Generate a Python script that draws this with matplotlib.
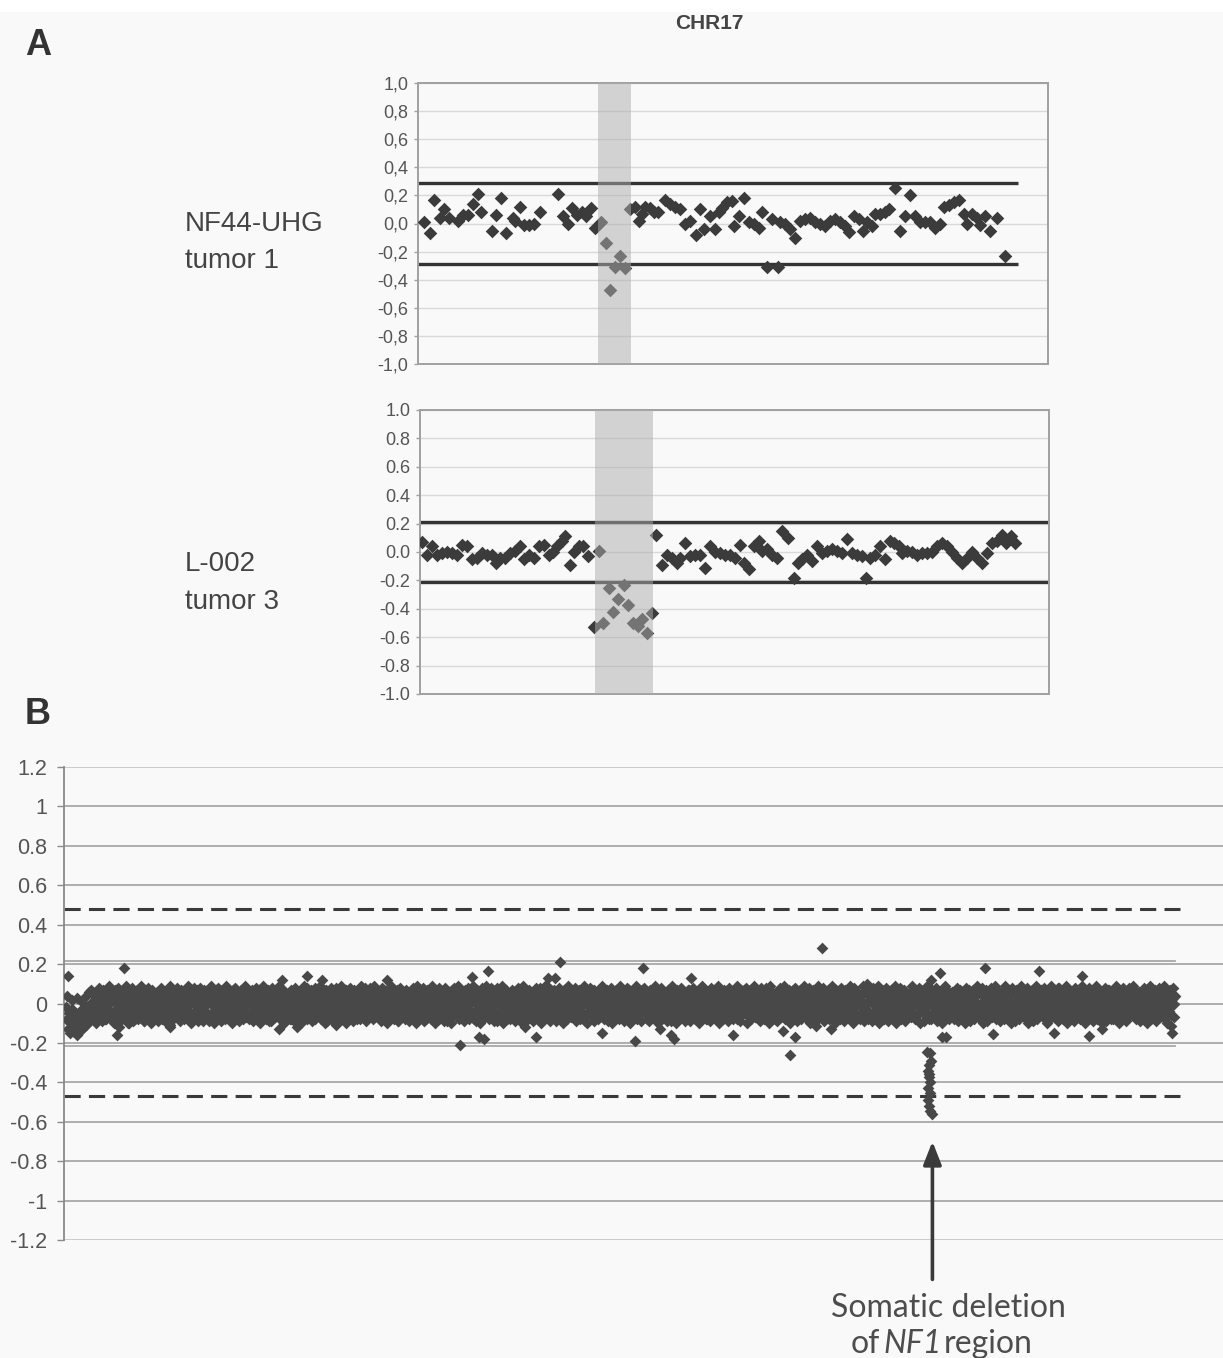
import numpy as np
import matplotlib
matplotlib.use("Agg")
import matplotlib.pyplot as plt
from matplotlib.patches import Rectangle

plt.rcParams['font.family'] = ['Liberation Sans', 'DejaVu Sans']

# ---------------- DATA ----------------
# Panel A, top: NF44-UHG tumor 1 (probe position index, log2 ratio)
a1_pos = [1.1, 2.3, 3.1, 4.3, 5.1, 6.1, 7.9, 8.9, 9.9, 10.9,
          11.9, 12.5, 14.7, 15.6, 16.5, 17.5, 18.9, 19.4, 20.4, 21.2,
          22.1, 23.2, 24.3, 27.9, 28.9, 29.9, 30.7, 31.7, 32.7, 33.6,
          34.5, 35.4, 36.6, 37.5, 38.3, 39.4, 40.3, 41.3, 42.3, 43.4,
          44.1, 44.7, 45.4, 46.4, 47.2, 47.9, 49.4, 50.4, 51.4, 52.3,
          53.4, 54.4, 55.6, 56.4, 57.2, 58.4, 59.4, 60.1, 60.7, 61.7,
          62.7, 63.1, 64.1, 65.1, 66.1, 67.1, 68.1, 68.7, 69.7, 70.7,
          71.9, 72.4, 73.4, 74.4, 75.4, 76.4, 77.4, 78.4, 79.4, 80.4,
          81.4, 82.4, 83.4, 84.4, 85.4, 86.1, 87.1, 88.1, 88.9, 89.7,
          90.7, 91.4, 92.4, 93.4, 94.1, 95.4, 96.4, 97.4, 98.3, 99.4,
          100.4, 101.4, 102.4, 103.4, 104.4, 105.1, 106.1, 107.1, 108.1, 109.1,
          109.7, 110.7, 111.7, 112.4, 113.4, 114.4, 115.7, 117.4]
a1_val = [0.01, -0.07, 0.17, 0.04, 0.10, 0.04, 0.02, 0.06, 0.06, 0.14,
          0.21, 0.08, -0.05, 0.06, 0.18, -0.07, 0.04, 0.02, 0.12, -0.01,
          -0.01, 0.00, 0.08, 0.21, 0.05, 0.00, 0.11, 0.06, 0.08, 0.05,
          0.11, -0.03, 0.01, -0.14, -0.47, -0.31, -0.23, -0.32, 0.10, 0.12,
          0.02, 0.07, 0.12, 0.11, 0.08, 0.08, 0.17, 0.14, 0.12, 0.10,
          0.00, 0.02, -0.08, 0.10, -0.04, 0.05, -0.04, 0.08, 0.11, 0.15,
          0.16, -0.02, 0.05, 0.18, 0.01, 0.00, -0.03, 0.08, -0.31, 0.03,
          -0.31, 0.01, 0.00, -0.04, -0.10, 0.02, 0.03, 0.04, 0.01, 0.00,
          -0.02, 0.02, 0.03, 0.01, -0.02, -0.06, 0.05, 0.03, -0.05, 0.01,
          -0.02, 0.07, 0.07, 0.08, 0.10, 0.25, -0.05, 0.05, 0.20, 0.05,
          0.01, 0.01, 0.01, -0.03, 0.00, 0.12, 0.13, 0.15, 0.17, 0.07,
          0.00, 0.07, 0.04, -0.01, 0.05, -0.05, 0.04, -0.23]
a1_region = (36.0, 42.6)
a1_threshold = 0.29
a1_line_end = 120
a1_xmax = 126

# Panel A, bottom: L-002 tumor 3
a2_pos = [0.3, 1.3, 2.3, 3.3, 4.3, 5.3, 6.3, 7.3, 8.3, 9.3,
          10.3, 11.3, 12.3, 13.3, 14.3, 15.2, 16.0, 17.0, 18.0, 19.0,
          20.0, 20.7, 21.7, 22.7, 23.7, 24.7, 25.7, 26.5, 27.3, 28.3,
          29.0, 29.9, 30.7, 31.7, 32.5, 33.5, 34.7, 35.8, 36.5, 37.7,
          38.5, 39.5, 40.7, 41.5, 42.5, 43.5, 44.3, 45.3, 46.3, 47.2,
          48.3, 49.3, 50.3, 51.3, 52.0, 52.9, 53.9, 55.0, 56.0, 57.0,
          58.0, 59.0, 60.0, 61.0, 62.0, 63.0, 64.0, 64.7, 65.7, 66.7,
          67.7, 68.3, 69.3, 70.3, 71.3, 72.3, 73.5, 74.7, 75.5, 76.3,
          77.3, 78.3, 79.3, 80.3, 81.3, 82.3, 83.3, 84.3, 85.3, 86.3,
          87.3, 88.3, 89.1, 90.0, 91.0, 92.0, 93.0, 93.9, 94.7, 95.7,
          96.3, 97.3, 98.3, 99.3, 100.3, 101.3, 102.3, 103.3, 104.3, 105.3,
          106.3, 107.3, 108.3, 109.3, 110.3, 111.3, 112.3, 113.3, 114.3, 115.3,
          116.3, 117.2, 118.1, 119.0]
a2_val = [0.07, -0.02, 0.04, -0.02, -0.01, 0.00, -0.01, -0.02, 0.05, 0.04,
          -0.05, -0.04, -0.01, -0.02, -0.02, -0.08, -0.04, -0.04, -0.01, 0.01,
          0.04, -0.05, -0.02, -0.04, 0.04, 0.05, -0.02, 0.00, 0.04, 0.08,
          0.11, -0.09, 0.00, 0.04, 0.04, -0.03, -0.53, 0.01, -0.50, -0.25,
          -0.42, -0.33, -0.23, -0.37, -0.50, -0.52, -0.47, -0.57, -0.43, 0.12,
          -0.09, -0.02, -0.04, -0.08, -0.04, 0.06, -0.03, -0.02, -0.02, -0.11,
          0.04, 0.00, -0.01, -0.02, -0.02, -0.04, 0.05, -0.08, -0.12, 0.04,
          0.08, 0.01, 0.02, -0.02, -0.04, 0.15, 0.10, -0.18, -0.08, -0.05,
          -0.02, -0.06, 0.04, -0.01, 0.01, 0.02, 0.01, -0.01, 0.09, -0.01,
          -0.02, -0.03, -0.18, -0.04, -0.02, 0.04, -0.05, 0.08, 0.06, 0.04,
          -0.01, 0.01, 0.00, -0.02, -0.01, -0.01, 0.00, 0.04, 0.06, 0.04,
          0.00, -0.04, -0.08, -0.04, 0.00, -0.04, -0.08, -0.01, 0.06, 0.08,
          0.12, 0.06, 0.11, 0.06]
a2_region = (35.0, 46.6)
a2_threshold = 0.21
a2_xmax = 125.8

a1_ticks = [1.0, 0.8, 0.6, 0.4, 0.2, 0.0, -0.2, -0.4, -0.6, -0.8, -1.0]
a1_ticklabels = ['1,0', '0,8', '0,6', '0,4', '0,2', '0,0', '-0,2', '-0,4', '-0,6', '-0,8', '-1,0']
a2_ticklabels = ['1.0', '0.8', '0.6', '0.4', '0.2', '0.0', '-0.2', '-0.4', '-0.6', '-0.8', '-1.0']

# Panel B: whole-genome probe values (hundredths), probe index order
# probe set 1 (integer positions)
b_band_hundredths = [
    -2, 4, -9, -4, -12, 2, -14, -10, -5, -13, 3, -15, -11, -6, 1, -3, -12, -7, 4, -10,
    -2, -8, -5, 1, -6, -3, 4, -7, -1, 3, -5, 0, 5, -4, 2, -8, 1, 6, -3, 0,
    4, -6, 2, -9, 7, -3, 0, 5, -12, -2, 3, -7, 1, 8, -4, 2, -10, 6, -1, -5,
    3, 0, -8, 4, -2, 7, -6, 1, -3, 5, -9, 2, 0, -4, 6, -1, 3, -7, 1, -2,
    5, -3, 0, -6, 3, -1, 7, -4, 2, -8, 0, 4, -5, 1, -11, 3, -2, 6, -4, 0,
    5, -7, 2, -1, 4, -3, -6, 1, 7, -2, 0, -5, 3, -8, 2, 5, -1, -4, 6, 0,
    -3, 4, -7, 1, -2, 6, 0, -5, 3, -9, 2, -1, 5, -4, 0, 7, -6, 2, -3, 4,
    -1, -7, 3, 0, -4, 5, -2, 1, -8, 6, -1, 3, -5, 0, 4, -3, 2, -6, 7, -2,
    1, -4, 5, -1, -7, 3, 0, 6, -5, 2, -2, 4, -8, 1, 7, -3, 0, -6, 3, -1,
    5, -4, 2, -9, 0, 4, -2, 6, -5, 1, -3, 3, -7, 0, 5, -1, 2, -6, 4, -2,
    0, -5, 3, -8, 6, -2, 1, -4, 5, -1, -7, 2, 0, 4, -6, 3, -3, 8, -2, 0,
    -5, 6, -1, 2, -8, 4, 0, -3, 5, -6, 1, -2, 7, -4, 2, -9, 3, 0, -5, 4,
    -1, 6, -3, 1, -10, 2, -5, 5, 0, -4, 3, -2, 7, -6, 1, -1, 4, -7, 2, 0,
    -3, 6, -5, 1, 3, -8, 0, 5, -2, -6, 4, -1, 2, -4, 8, -3, 0, -7, 3, 1,
    -5, 4, -2, 6, 0, -8, 3, -1, 5, -4, 2, -6, 1, 7, -3, 0, -5, 4, -2, -9,
    3, 1, -6, 5, -1, 2, -4, 6, 0, -7, 3, -2, 4, -5, 1, -3, 7, -1, -6, 2,
    0, 5, -4, 3, -8, 1, -2, 6, -5, 2, 0, -7, 4, -1, 3, -3, 8, -6, 1, -2,
    5, -4, 0, -9, 3, 6, -1, -5, 2, 4, -3, 0, -7, 5, 1, -2, 6, -4, 2, -1,
    -6, 3, 0, -3, 7, -5, 1, 4, -8, 2, -1, 5, -4, 0, 3, -7, 6, -2, 1, -5,
    4, 0, -3, 8, -6, 2, -1, 3, -9, 5, 0, -4, 2, 6, -2, -5, 1, 4, -3, 0,
    5, -7, 2, -1, 6, -4, 0, 3, -6, 1, 7, -3, -1, 4, -8, 2, 0, 5, -5, 3,
    -2, 6, -1, -7, 4, 1, -4, 8, -3, 0, -6, 5, 2, -2, 3, -5, 0, 7, -4, 1,
    -2, 6, -6, 3, 0, -4, 5, -1, 2, -8, 4, 0, -3, 7, -5, 1, -2, 3, -7, 6,
    0, -4, 2, 5, -6, 1, -1, 4, -9, 3, 0, -5, 6, -2, 2, -4, 7, -3, 1, -6,
    3, 0, -5, 5, -2, 1, -7, 4, -1, 6, -4, 2, 0, -8, 5, -3, 1, 3, -6, 0,
    7, -2, -4, 4, 1, -5, 2, -1, 6, -7, 3, 0, -3, 5, -1, -6, 4, 2, -4, 0,
    6, -3, 1, -5, 3, -1, -8, 4, 0, 5, -6, 2, -2, 7, -4, 1, -1, 3, -7, 5,
    0, -4, 6, -2, 2, -9, 4, -1, 1, -5, 3, 6, -3, 0, -6, 4, -2, 5, -1, -4,
    2, 7, -5, 0, 3, -2, -6, 4, 1, -3, 6, -7, 2, 0, 5, -4, -1, 3, -8, 6,
    -2, 1, 4, -5, 0, -3, 7, -1, 2, -6, 5, -4, 0, 3, -2, -7, 6, 1, -3, 4,
    -5, 0, 3, -1, 6, -8, 2, -3, 5, 0, -4, 7, -2, 1, -6, 4, -1, 3, -5, 2,
    0, -7, 6, -3, 1, 5, -4, -1, 3, -6, 2, 8, -2, 0, -5, 4, -3, 1, -7, 5,
    0, -2, 6, -4, 3, -1, -6, 2, 5, -3, 0, -8, 4, 1, -5, 7, -2, 3, -4, 0,
    6, -6, 1, -1, 4, -3, 2, -7, 5, 0, -4, 3, -2, 6, -5, 1, -9, 4, 0, -3,
    5, -1, 2, -6, 3, 0, -4, 7, -2, 1, -5, 4, -3, 6, 0, -7, 2, -1, 5, -4,
    3, -2, -6, 1, 4, 0, -5, 6, -3, 2, -8, 3, 0, -1, 5, -6, 4, -2, 1, -4,
    7, -3, 0, -5, 4, 2, -7, 1, -1, 6, -4, 3, 0, -6, 5, -2, 1, -8, 4, -3,
    2, 6, -5, 0, -1, 3, -7, 5, -2, 1, -4, 4, 0, -6, 7, -3, 2, -1, -5, 3,
    0, -4, 6, -2, 1, -7, 3, -1, 5, -5, 2, 0, -3, 4, -6, 1, -2, 3, -8, 0,
    5, -1, 2, -4, 6, -3, 0, 4, -6, 1, -2, 7, -5, 3, -1, 0, -4, 5, -2, 2,
    -7, 4, 1, -3, 6, -5, 0, 3, -2, -6, 5, -1, 2, -4, 7, 0, -8, 3, -2, 1,
    4, -5, 6, -3, 0, -1, 5, -6, 2, -4, 3, 1, -7, 6, -2, 0, 4, -3, 2, -5,
    1, 6, -4, 0, -2, 5, -6, 3, -1, 2, -8, 4, 0, -3, 7, -5, 1, -1, 3, -6,
    5, 0, -4, 2, 6, -2, -7, 4, 1, -3, 5, -5, 0, 2, -1, 7, -4, 3, -6, 0,
    4, -2, 1, -5, 6, -3, 0, 3, -7, 2, -1, 5, -4, 1, 8, -6, 0, 3, -2, -5,
    4, -1, 6, -3, 2, 0, -7, 5, -2, 1, -4, 3, 7, -6, 0, -1, 4, -3, 2, -5,
    6, 0, -4, 3, -1, 5, -7, 2, 1, -3, 6, -5, 0, 4, -2, -6, 3, 1, -4, 7,
    -1, 2, -8, 5, 0, -3, 4, -2, 6, -5, 1, 3, -1, -6, 5, 0, -3, 2, 4, -4,
    1, -2, 6, -5, 3, 0, -4, 5, -1, 2, -7, 4, 6, -3, 1, -5, 3, -2, 0, 5,
    -6, 4, -1, 2, -4, 6, 1, -3, -2, 5, -1, 3, -4, 0, 4, -2, 2, -1, 3, 0,
]
# probe set 2 (half-integer positions)
b_band2_hundredths = [
    -8, -13, -5, -15, -9, -3, -14, -11, -7, -16, -6, -12, -4, -10, -13, -8, -2, -11, -9, -5,
    6, -9, 7, -4, -8, 5, -10, 3, -7, 8, -6, 4, -9, 7, -3, -8, 6, -5, 9, -7,
    7, -8, 5, -10, 4, -6, 8, -9, 6, -5, -8, 7, -4, 9, -7, 5, -10, 6, -3, 8,
    -9, 4, -6, 7, -8, 5, -5, 9, -7, 3, -9, 6, -4, 8, -6, 5, -10, 7, -5, 4,
    -7, 6, -9, 5, -4, 8, -8, 6, -6, 4, -10, 7, -5, 9, -3, 6, -8, 5, -7, 8,
    -6, 4, -9, 7, -5, 6, -8, 3, -7, 9, -4, 5, -10, 6, -6, 8, -5, 7, -9, 4,
    8, -6, 5, -9, 7, -4, 6, -8, 4, -7, 9, -5, 6, -10, 5, -6, 8, -4, 7, -9,
    5, -7, 4, -8, 9, -5, 6, -6, 3, -10, 7, -4, 8, -7, 5, -9, 6, -5, 4, -8,
    -6, 9, -7, 5, -8, 4, -5, 7, -9, 6, -4, 8, -7, 5, -10, 6, -5, 9, -6, 4,
    -8, 7, -3, 5, -9, 8, -6, 4, -7, 6, -5, 9, -8, 5, -4, 7, -10, 6, -6, 3,
    5, -8, 7, -6, 4, -9, 8, -5, 6, -7, 3, -10, 7, -4, 9, -6, 5, -8, 6, -5,
    7, -9, 4, -6, 8, -7, 5, -4, 9, -8, 6, -5, 4, -10, 7, -6, 5, -7, 8, -4,
    -9, 6, -5, 8, -7, 4, -6, 9, -8, 5, -4, 7, -10, 6, -5, 8, -6, 3, -9, 7,
    -5, 6, -8, 4, -7, 9, -4, 5, -6, 8, -9, 6, -5, 7, -3, 4, -8, 9, -6, 5,
    6, -7, 4, -9, 8, -5, 7, -6, 5, -10, 6, -4, 9, -7, 5, -8, 4, -6, 7, -9,
    8, -5, 6, -4, 3, -8, 7, -7, 5, -9, 6, -5, 8, -6, 4, -10, 9, -4, 5, -7,
    -5, 8, -9, 6, -4, 7, -7, 5, -8, 9, -6, 4, -10, 6, -5, 7, -8, 5, -6, 4,
    -9, 8, -7, 6, -4, 5, -10, 7, -6, 8, -5, 4, -7, 9, -8, 6, -4, 5, -9, 7,
    4, -6, 8, -8, 5, -7, 9, -5, 6, -9, 7, -4, 5, -10, 8, -6, 4, -7, 9, -5,
    6, -8, 5, -6, 7, -9, 4, -5, 8, -7, 6, -4, 9, -10, 5, -6, 7, -8, 4, -5,
    -8, 7, -5, 6, -9, 4, -7, 8, -6, 5, -10, 9, -4, 6, -7, 5, -8, 7, -5, 4,
    -9, 6, -6, 8, -4, 7, -8, 5, -10, 6, -5, 9, -7, 4, -6, 8, -9, 5, -5, 7,
    6, -9, 5, -7, 8, -4, 6, -10, 7, -5, 4, -8, 9, -6, 5, -7, 6, -4, 8, -9,
    5, -6, 7, -8, 4, -5, 9, -7, 6, -10, 5, -4, 8, -6, 7, -9, 4, -5, 6, -8,
    -7, 5, -6, 9, -8, 4, -5, 7, -9, 6, -4, 8, -10, 5, -6, 7, -7, 4, -8, 9,
    -5, 6, -9, 5, -4, 8, -6, 7, -10, 4, -7, 6, -5, 9, -8, 5, -6, 4, -9, 7,
    8, -5, 4, -8, 6, -9, 7, -4, 5, -7, 9, -6, 4, -10, 6, -5, 8, -7, 5, -6,
    4, -9, 7, -5, 6, -8, 9, -4, 5, -10, 7, -6, 4, -7, 8, -5, 6, -9, 5, -4,
    -6, 7, -9, 4, -5, 8, -8, 6, -7, 5, -10, 4, -4, 9, -6, 7, -8, 5, -5, 6,
    -9, 8, -4, 7, -7, 5, -6, 9, -10, 4, -5, 6, -8, 7, -6, 5, -9, 8, -4, 6,
    5, -8, 6, -5, 9, -7, 4, -9, 7, -6, 5, -4, 8, -10, 6, -5, 7, -8, 4, -6,
    9, -7, 5, -5, 6, -9, 8, -4, 7, -8, 5, -6, 4, -10, 9, -5, 6, -7, 5, -8,
    -9, 6, -4, 8, -7, 5, -6, 9, -8, 4, -5, 7, -10, 6, -7, 5, -4, 8, -9, 6,
    -5, 7, -8, 4, -6, 9, -7, 5, -5, 8, -10, 4, -6, 7, -8, 5, -4, 9, -7, 6,
    7, -5, 8, -9, 4, -6, 6, -8, 5, -7, 9, -4, 5, -10, 7, -6, 4, -8, 8, -5,
    6, -9, 7, -4, 5, -7, 9, -6, 4, -10, 8, -5, 6, -7, 5, -8, 4, -6, 9, -9,
    -5, 6, -8, 7, -6, 4, -9, 8, -4, 5, -7, 9, -10, 6, -5, 7, -8, 4, -6, 8,
    -9, 5, -5, 7, -7, 6, -4, 9, -10, 5, -6, 8, -8, 4, -5, 7, -9, 6, -7, 5,
    4, -7, 9, -5, 6, -8, 5, -6, 8, -10, 7, -4, 6, -9, 5, -5, 9, -7, 4, -8,
    7, -6, 5, -4, 8, -9, 6, -7, 5, -10, 4, -5, 9, -6, 7, -8, 5, -4, 6, -7,
    -8, 5, -6, 8, -9, 7, -4, 6, -7, 5, -10, 8, -5, 4, -9, 6, -6, 7, -8, 5,
    -4, 9, -7, 6, -5, 8, -10, 4, -6, 7, -9, 5, -5, 8, -7, 6, -4, 9, -8, 5,
    6, -9, 4, -6, 7, -8, 9, -5, 5, -7, 6, -10, 8, -4, 5, -9, 7, -6, 4, -8,
    9, -5, 6, -7, 5, -4, 8, -10, 6, -6, 7, -9, 4, -5, 9, -8, 5, -6, 7, -4,
    -7, 8, -5, 6, -10, 4, -8, 9, -6, 5, -7, 7, -4, 6, -9, 8, -5, 5, -8, 4,
    -6, 9, -10, 7, -5, 6, -7, 4, -9, 8, -6, 5, -4, 7, -8, 9, -5, 6, -10, 4,
    5, -6, 8, -7, 4, -9, 6, -5, 9, -8, 7, -4, 5, -10, 6, -6, 8, -9, 4, -5,
    7, -7, 6, -8, 5, -4, 9, -6, 7, -10, 4, -5, 8, -7, 6, -9, 5, -4, 8, -6,
    -6, 9, -5, 7, -8, 4, -7, 6, -9, 5, -4, 8, -6, 7, -10, 5, -5, 9, -8, 6,
    -4, 7, -9, 5, -6, 8, -7, 4, -5, 9, -8, 6, -10, 5, -4, 7, -6, 8, -7, 4,
]
b_out_pos = [2, 46, 52, 94, 192, 195, 208, 217, 231, 243,
             289, 355, 366, 372, 377, 380, 414, 424, 434, 441,
             445, 483, 513, 520, 535, 545, 548, 563, 601, 646,
             653, 657, 676, 681, 690, 722, 780, 788, 790, 793,
             828, 836, 877, 891, 916, 922, 934, 996, 997]
b_out_val = [0.14, -0.16, 0.18, -0.12, -0.13, 0.12, -0.12, 0.14, 0.12, -0.11,
             0.12, -0.21, 0.135, -0.17, -0.18, 0.165, -0.12, -0.17, 0.13, 0.13,
             0.21, -0.15, -0.19, 0.18, -0.13, -0.16, -0.18, 0.13, -0.16, -0.14,
             -0.26, -0.17, -0.115, 0.28, -0.13, 0.10, 0.12, 0.155, -0.17, -0.17,
             0.18, -0.155, 0.165, -0.15, 0.14, -0.165, -0.13, -0.115, -0.15]
# NF1 deletion probes
b_del_pos = [776, 779, 778, 777, 778, 779, 777, 779, 777, 778, 779, 781, 780, 778]
b_del_val = [-0.245, -0.25, -0.31, -0.34, -0.375, -0.40, -0.43, -0.455, -0.49,
             -0.52, -0.545, -0.56, -0.29, -0.36]
b_dash = 0.48
b_dash_low = -0.47
b_thresh = 0.217
b_ticks = [1.2, 1.0, 0.8, 0.6, 0.4, 0.2, 0.0, -0.2, -0.4, -0.6, -0.8, -1.0, -1.2]
b_ticklabels = ['1.2', '1', '0.8', '0.6', '0.4', '0.2', '0', '-0.2', '-0.4', '-0.6', '-0.8', '-1', '-1.2']
b_arrow_pos = 781

# ---------------- FIGURE ----------------
W, H = 1223, 1358
BG = '#f9f9f9'
fig = plt.figure(figsize=(W / 100, H / 100), dpi=100, facecolor=BG)


def fx(px):
    return px / W


def fy(py):
    return 1 - py / H


fig.patches.append(Rectangle((0, fy(12)), 1, 1 - fy(12), transform=fig.transFigure,
                             facecolor='white', edgecolor='none', zorder=0))

MK = '#3b3b3b'


def panel_a(rect, pos, val, region, thr, line_end, xmax, labels, low_thr=None):
    ax = fig.add_axes(rect)
    ax.set_facecolor('none')
    ax.set_xlim(0, xmax)
    ax.set_ylim(-1.0, 1.0)
    for t in a1_ticks:
        ax.axhline(t, color='#d9d9d9', lw=1.0, zorder=1)
    ax.set_yticks(a1_ticks)
    ax.set_yticklabels(labels)
    ax.set_xticks([])
    for s in ax.spines.values():
        s.set_color('#a0a0a0')
        s.set_linewidth(1.4)
    ax.tick_params(axis='y', length=3, width=1, color='#a0a0a0', pad=4,
                   labelsize=13, labelcolor='#555555')
    lo = -thr if low_thr is None else low_thr
    ax.plot([0, line_end], [thr, thr], color='#333333', lw=2.4, solid_capstyle='butt', zorder=2)
    ax.plot([0, line_end], [lo, lo], color='#333333', lw=2.4, solid_capstyle='butt', zorder=2)
    ax.scatter(pos, val, marker='D', s=48, color=MK, linewidths=0, zorder=3)
    ax.axvspan(region[0], region[1], color='#adadad', alpha=0.5, lw=0, zorder=4)
    return ax


panel_a([fx(418), fy(364), fx(1048) - fx(418), fy(83) - fy(364)],
        a1_pos, a1_val, a1_region, a1_threshold, a1_line_end, a1_xmax, a1_ticklabels)
panel_a([fx(420), fy(694), fx(1049) - fx(420), fy(410) - fy(694)],
        a2_pos, a2_val, a2_region, a2_threshold, a2_xmax, a2_xmax, a2_ticklabels)

# ---- Panel B ----
axb = fig.add_axes([fx(64), fy(1240), 1 - fx(64), fy(767) - fy(1240)])
axb.set_facecolor('none')
axb.set_xlim(-2, 1043)
axb.set_ylim(-1.2, 1.2)
for t in b_ticks:
    c = '#c8c8c8' if abs(t) > 1.1 else '#a8a8a8'
    axb.axhline(t, color=c, lw=1.3, zorder=1)
axb.plot([-2, 1000], [b_thresh, b_thresh], color='#a8a8a8', lw=1.3, zorder=1)
axb.plot([-2, 1000], [-b_thresh, -b_thresh], color='#a8a8a8', lw=1.3, zorder=1)
axb.plot([-2, 1004], [b_dash, b_dash], color='#3a3a3a', lw=2.2, ls=(0, (5.3, 2.7)), zorder=2)
axb.plot([-2, 1004], [b_dash_low, b_dash_low], color='#3a3a3a', lw=2.2, ls=(0, (5.3, 2.7)), zorder=2)

BMK = '#484848'
band = np.array(b_band_hundredths) / 100.0
band2 = np.array(b_band2_hundredths) / 100.0
axb.scatter(np.arange(len(band2)) + 0.5, band2, marker='D', s=36, color=BMK, linewidths=0, zorder=3)
axb.scatter(np.arange(len(band)), band, marker='D', s=36, color=BMK, linewidths=0, zorder=3)
axb.scatter(b_out_pos, b_out_val, marker='D', s=36, color=BMK, linewidths=0, zorder=3)
axb.scatter(b_del_pos, b_del_val, marker='D', s=36, color=BMK, linewidths=0, zorder=3)

axb.set_yticks(b_ticks)
axb.set_yticklabels(b_ticklabels)
axb.set_xticks([])
for k in ['top', 'right', 'bottom']:
    axb.spines[k].set_visible(False)
axb.spines['left'].set_color('#8a8a8a')
axb.spines['left'].set_linewidth(1.3)
axb.tick_params(axis='y', length=5, width=1, color='#8a8a8a', pad=7,
                labelsize=15.5, labelcolor='#555555')

axb.annotate('', xy=(b_arrow_pos, -0.70), xytext=(b_arrow_pos, -1.40),
             xycoords='data', textcoords='data', annotation_clip=False,
             arrowprops=dict(arrowstyle='-|>,head_length=1.4,head_width=0.55',
                             color='#3a3a3a', lw=2.6, shrinkA=0, shrinkB=0))

# ---- Texts ----
fig.text(fx(709), fy(29), 'CHR17', ha='center', va='baseline', fontsize=15,
         fontweight='bold', color='#444444')
fig.text(fx(25), fy(55), 'A', ha='left', va='baseline', fontsize=26,
         fontweight='bold', color='#333333')
fig.text(fx(25), fy(724), 'B', ha='left', va='baseline', fontsize=26,
         fontweight='bold', color='#333333')
fig.text(fx(185), fy(231), 'NF44-UHG', ha='left', va='baseline', fontsize=20, color='#444444')
fig.text(fx(185), fy(268), 'tumor 1', ha='left', va='baseline', fontsize=20, color='#444444')
fig.text(fx(185), fy(571), 'L-002', ha='left', va='baseline', fontsize=20, color='#444444')
fig.text(fx(185), fy(609), 'tumor 3', ha='left', va='baseline', fontsize=20, color='#444444')

lf = ['Lato', 'DejaVu Sans']
TC = '#4d4d4d'
fig.text(fx(948), fy(1317), 'Somatic deletion', ha='center', va='baseline', fontsize=23,
         family=lf, color=TC)
fig.text(fx(851), fy(1353), 'of', ha='left', va='baseline', fontsize=23,
         family=lf, color=TC)
fig.text(fx(883), fy(1353), 'NF1', ha='left', va='baseline', fontsize=23,
         family=lf, style='italic', color=TC)
fig.text(fx(944), fy(1353), 'region', ha='left', va='baseline', fontsize=23,
         family=lf, color=TC)

fig.savefig('out.png', dpi=100, facecolor=BG)
